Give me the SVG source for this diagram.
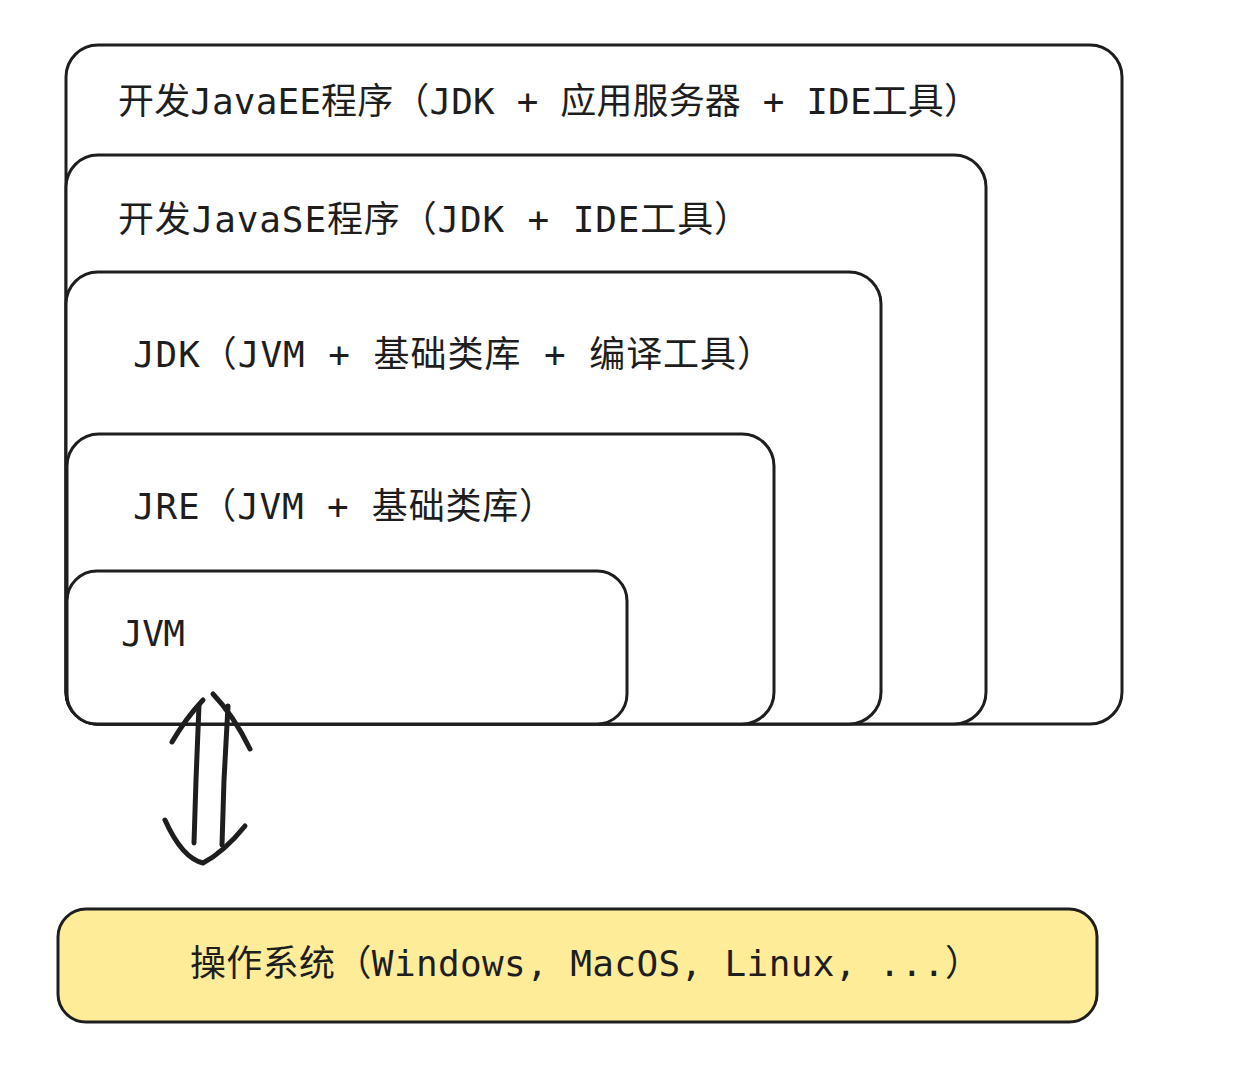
<svg xmlns="http://www.w3.org/2000/svg" width="1240" height="1080" viewBox="0 0 1240 1080">
  <style>
    .box { fill: #ffffff; stroke: #1e1e1e; stroke-width: 3; }
    .os { fill: #ffec99; stroke: #1e1e1e; stroke-width: 3; }
    .lbl { font-family: "DejaVu Sans Mono", "Noto Sans CJK SC", monospace; font-size: 36px; fill: #1e1e1e; }
    .arrow { fill: none; stroke: #1e1e1e; stroke-width: 5; stroke-linecap: round; stroke-linejoin: round; }
  </style>
  <rect width="1240" height="1080" fill="#ffffff"/>
  <g id="javaee">
    <rect class="box" x="66" y="45" width="1056" height="679" rx="32"/>
    <text class="lbl" x="118" y="114" textLength="862" lengthAdjust="spacing">开发JavaEE程序（JDK + 应用服务器 + IDE工具）</text>
  </g>
  <g id="javase">
    <rect class="box" x="66" y="155" width="920" height="569" rx="32"/>
    <text class="lbl" x="118" y="232" textLength="632" lengthAdjust="spacing">开发JavaSE程序（JDK + IDE工具）</text>
  </g>
  <g id="jdk">
    <rect class="box" x="66" y="272" width="815" height="452" rx="32"/>
    <text class="lbl" x="133" y="367" textLength="640" lengthAdjust="spacing">JDK（JVM + 基础类库 + 编译工具）</text>
  </g>
  <g id="jre">
    <rect class="box" x="67" y="434" width="707" height="290" rx="32"/>
    <text class="lbl" x="133" y="519" textLength="422" lengthAdjust="spacing">JRE（JVM + 基础类库）</text>
  </g>
  <g id="jvm">
    <rect class="box" x="67" y="571" width="560" height="153" rx="30"/>
    <text class="lbl" x="121" y="646" textLength="64" lengthAdjust="spacing">JVM</text>
  </g>
  <g id="os">
    <rect class="os" x="58" y="909" width="1039" height="113" rx="28"/>
    <text class="lbl" x="190" y="976" textLength="791" lengthAdjust="spacing">操作系统（Windows, MacOS, Linux, ...）</text>
  </g>
  <g id="connectors">
    <path class="arrow" d="M194,843 L196,780 L199,705"/>
    <path class="arrow" d="M172,742 Q186,718 203,700"/>
    <path class="arrow" d="M213,694 Q234,716 250,749"/>
    <path class="arrow" d="M228,706 L224,780 L222,845"/>
    <path class="arrow" d="M165,820 Q182,858 203,863 Q224,852 245,826"/>
  </g>
</svg>
